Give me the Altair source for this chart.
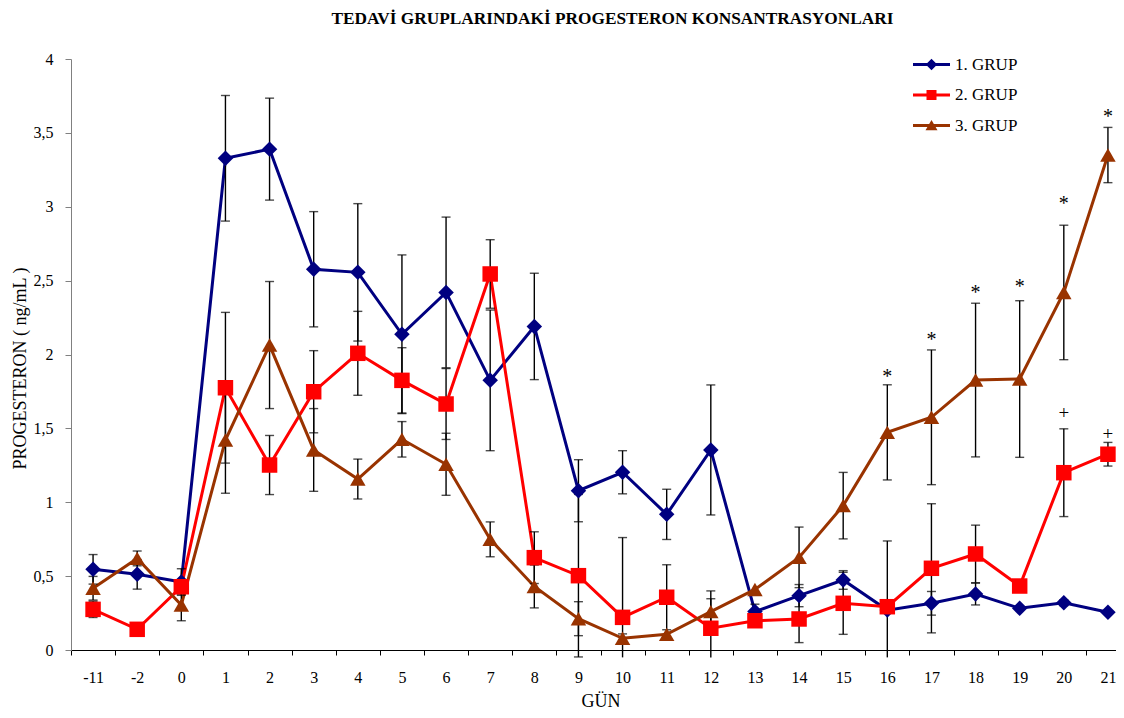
import altair as alt
import pandas as pd

days = ["-11", "-2", "0", "1", "2", "3", "4", "5", "6", "7", "8", "9", "10",
        "11", "12", "13", "14", "15", "16", "17", "18", "19", "20", "21"]
groups = ["1. GRUP", "2. GRUP", "3. GRUP"]
colors = ["#000080", "#FF0000", "#993300"]

g1_mean = [0.546, 0.512, 0.46, 3.328, 3.39, 2.577, 2.556, 2.137, 2.42, 1.825, 2.19, 1.078,
           1.203, 0.918, 1.354, 0.26, 0.368, 0.474, 0.27, 0.316, 0.379, 0.282, 0.32, 0.255]
g1_err = [0.10, 0.10, 0.09, 0.425, 0.345, 0.39, 0.465, 0.537, 0.51, 0.476, 0.36, 0.21,
          0.146, 0.17, 0.44, 0.05, 0.075, 0.063, 0.0, 0.08, 0.074, 0.0, 0.02, 0.0]

g2_mean = [0.275, 0.14, 0.428, 1.775, 1.252, 1.748, 2.008, 1.825, 1.665, 2.545, 0.625, 0.503,
           0.221, 0.357, 0.147, 0.198, 0.21, 0.316, 0.293, 0.553, 0.65, 0.433, 1.2, 1.325]
g2_err = [0.055, 0.0, 0.05, 0.51, 0.2, 0.278, 0.284, 0.221, 0.24, 0.232, 0.175, 0.55,
          0.54, 0.22, 0.2, 0.04, 0.16, 0.21, 0.445, 0.437, 0.195, 0.0, 0.297, 0.08]

g3_mean = [0.418, 0.62, 0.305, 1.421, 2.064, 1.354, 1.157, 1.426, 1.257, 0.749, 0.43, 0.212,
           0.079, 0.106, 0.26, 0.41, 0.627, 0.977, 1.473, 1.575, 1.827, 1.834, 2.42, 3.35]
g3_err = [0.08, 0.05, 0.107, 0.36, 0.43, 0.28, 0.135, 0.12, 0.21, 0.118, 0.145, 0.115,
          0.03, 0.0, 0.14, 0.0, 0.205, 0.225, 0.322, 0.456, 0.52, 0.53, 0.455, 0.187]

star_day = ["16", "17", "18", "19", "20", "21"]
star_y = [1.884, 2.132, 2.452, 2.491, 3.055, 3.643]
plus_day = ["20", "21"]
plus_y = [1.613, 1.467]

y_ticks = [0, 0.5, 1, 1.5, 2, 2.5, 3, 3.5, 4]

rows = []
for g, means, errs in zip(groups, [g1_mean, g2_mean, g3_mean], [g1_err, g2_err, g3_err]):
    for d, m, e in zip(days, means, errs):
        rows.append({"gun": d, "grup": g, "mean": m, "err": e,
                     "lo": max(m - e, -0.05), "hi": m + e})
df = pd.DataFrame(rows)
df_err = df[df["err"] > 0]
df_star = pd.DataFrame({"gun": star_day, "txt": "*", "y": star_y})
df_plus = pd.DataFrame({"gun": plus_day, "txt": "+", "y": plus_y})

FONT = "Liberation Serif"

x_axis = alt.Axis(title="GÜN", labelAngle=0, tickBand="extent", tickSize=5,
                  labelPadding=14, labelFont=FONT, labelFontSize=16, labelColor="black",
                  titleFont=FONT, titleFontSize=18, titleFontWeight="normal",
                  titleColor="black", titleBaseline="alphabetic", titleY=56,
                  titleX=529.5,
                  domainColor="black", tickColor="black", grid=False)
y_axis = alt.Axis(title="PROGESTERON ( ng/mL )", values=y_ticks, format="~g",
                  labelExpr="replace(datum.label, '.', ',')", tickSize=6,
                  labelPadding=12, labelFont=FONT, labelFontSize=16, labelColor="black",
                  titleFont=FONT, titleFontSize=18, titleFontWeight="normal",
                  titleColor="black", titleBaseline="alphabetic", titleX=-46,
                  titleY=309, titleAngle=270,
                  domainColor="#808080", tickColor="#808080", grid=False)

x_enc = alt.X("gun:N", sort=days,
              scale=alt.Scale(type="band", domain=days, paddingInner=0, paddingOuter=0,
                              range=[0, 1059]),
              axis=x_axis)
y_scale = alt.Scale(domain=[0, 4], nice=False, zero=False)

color_nolegend = alt.Color("grup:N", scale=alt.Scale(domain=groups, range=colors), legend=None)

lines = alt.Chart(df).mark_line(strokeWidth=3).encode(
    x=x_enc,
    y=alt.Y("mean:Q", scale=y_scale, axis=y_axis),
    color=color_nolegend,
    detail="grup:N",
)

rules = alt.Chart(df_err).mark_rule(color="black", strokeWidth=1.4).encode(
    x=x_enc,
    y=alt.Y("lo:Q", scale=y_scale, axis=y_axis),
    y2="hi:Q",
)
caps_hi = alt.Chart(df_err).mark_tick(color="black", thickness=1.4, size=9).encode(
    x=x_enc,
    y=alt.Y("hi:Q", scale=y_scale, axis=y_axis),
)
caps_lo = alt.Chart(df_err[df_err["lo"] > -0.05]).mark_tick(color="black", thickness=1.4, size=9).encode(
    x=x_enc,
    y=alt.Y("lo:Q", scale=y_scale, axis=y_axis),
)

points = alt.Chart(df).mark_point(filled=True, opacity=1, size=240).encode(
    x=x_enc,
    y=alt.Y("mean:Q", scale=y_scale, axis=y_axis),
    color=color_nolegend,
    shape=alt.Shape("grup:N", scale=alt.Scale(domain=groups,
                    range=["diamond", "square", "triangle-up"]), legend=None),
)

line_part = "M-3.7,-0.3H3.7V0.3H-3.7Z"
legend_paths = [
    line_part + "M0,-1.15L1.15,0L0,1.15L-1.15,0Z",
    line_part + "M-1,-1H1V1H-1Z",
    line_part + "M0,-1.1L1.2,0.95H-1.2Z",
]
leg_props = dict(title=None, orient="none", legendX=852, legendY=-3, padding=0,
                 symbolSize=100, symbolOpacity=1, symbolStrokeWidth=0,
                 labelFont=FONT, labelFontSize=17, labelColor="black",
                 labelOffset=15, rowPadding=12.5)
legend_layer = alt.Chart(df[df["gun"] == "21"]).mark_point(filled=True, opacity=0).encode(
    x=x_enc,
    y=alt.Y("mean:Q", scale=y_scale, axis=y_axis),
    color=alt.Color("grup:N", scale=alt.Scale(domain=groups, range=colors),
                    legend=alt.Legend(**leg_props)),
    shape=alt.Shape("grup:N", scale=alt.Scale(domain=groups, range=legend_paths),
                    legend=alt.Legend(**leg_props)),
)

stars = alt.Chart(df_star).mark_text(font=FONT, fontSize=20, color="black",
                                     baseline="middle", align="center", dy=5).encode(
    x=x_enc,
    y=alt.Y("y:Q", scale=y_scale, axis=y_axis),
    text="txt:N",
)
plus = alt.Chart(df_plus).mark_text(font=FONT, fontSize=19, color="black",
                                    baseline="middle", align="center", dy=1).encode(
    x=x_enc,
    y=alt.Y("y:Q", scale=y_scale, axis=y_axis),
    text="txt:N",
)

chart = alt.layer(lines, rules, caps_hi, caps_lo, points, stars, plus, legend_layer).resolve_scale(
    color="independent", shape="independent"
).properties(
    width=1045, height=591,
    autosize=alt.AutoSizeParams(type="none"),
    padding={"left": 63, "top": 51, "right": 0, "bottom": 60},
    title=alt.TitleParams("TEDAVİ GRUPLARINDAKİ PROGESTERON KONSANTRASYONLARI",
                          font=FONT, fontSize=17.3, fontWeight="bold", color="black",
                          anchor="middle", frame="group", dx=19, offset=10,
                          baseline="alphabetic"),
    background="white",
).configure_view(stroke=None)

chart.save("out.html", embed_options={"renderer": "svg", "actions": False})
